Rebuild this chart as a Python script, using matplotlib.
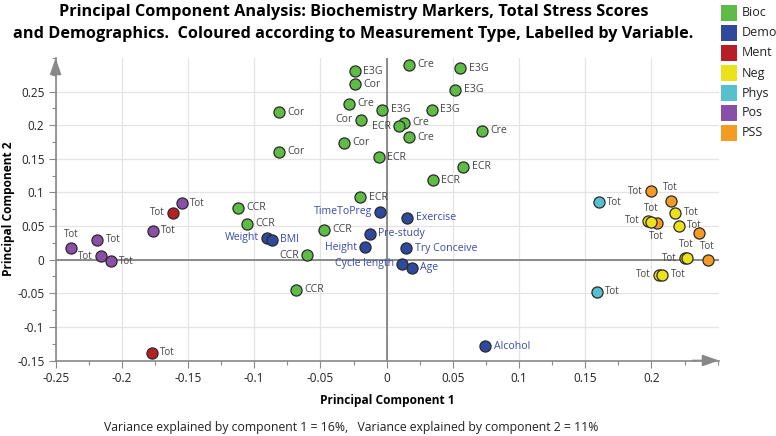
import matplotlib
matplotlib.use("Agg")
import matplotlib.pyplot as plt
from matplotlib.patches import Rectangle
from matplotlib.ticker import MultipleLocator, FuncFormatter

plt.rcParams['font.family'] = ['Open Sans', 'DejaVu Sans']

# ---------------- data ----------------
groups = ["Bioc", "Demo", "Ment", "Neg", "Phys", "Pos", "PSS"]
group_colors = ["#5dbb46", "#2f4a9c", "#b71f27", "#ece21c", "#57c0cf", "#8a4fa6", "#f29b25"]

bioc_x = [-0.0242, 0.0166, 0.0556, -0.0242, 0.052, -0.0284, -0.0033, 0.034, -0.0191, 0.0133,
          0.0096, 0.0719, 0.0166, -0.0319, -0.006, 0.0579, 0.0347, -0.0198, -0.0813, -0.0813,
          -0.1122, -0.1054, -0.0475, -0.0601, -0.0684]
bioc_y = [0.280, 0.290, 0.285, 0.261, 0.2527, 0.2318, 0.2228, 0.2228, 0.2079, 0.2039,
          0.1985, 0.192, 0.182, 0.1736, 0.1527, 0.1382, 0.1184, 0.0925, 0.2194, 0.1606,
          0.0776, 0.0531, 0.0442, 0.0069, -0.0448]
bioc_lab = ["E3G", "Cre", "E3G", "Cor", "E3G", "Cre", "E3G", "E3G", "Cor", "Cre",
            "ECR", "Cre", "Cre", "Cor", "ECR", "ECR", "ECR", "ECR", "Cor", "Cor",
            "CCR", "CCR", "CCR", "CCR", "CCR"]
bioc_side = ["r", "r", "r", "r", "r", "r", "r", "r", "l", "r",
             "l", "r", "r", "r", "r", "r", "r", "r", "r", "r",
             "r", "r", "r", "l", "r"]

demo_x = [-0.0048, 0.0156, -0.0128, -0.0164, 0.0148, 0.0118, 0.0191, -0.0903, -0.0868, 0.0745]
demo_y = [0.0711, 0.0627, 0.0382, 0.0184, 0.0169, -0.006, -0.0119, 0.0328, 0.0298, -0.129]
demo_lab = ["TimeToPreg", "Exercise", "Pre-study", "Height", "Try Conceive", "Cycle length",
            "Age", "Weight", "BMI", "Alcohol"]
demo_side = ["l", "r", "r", "l", "r", "l", "r", "l", "r", "r"]

ment_x = [-0.1615, -0.1774]
ment_y = [0.0701, -0.1388]
ment_lab = ["Tot", "Tot"]
ment_side = ["l", "r"]

pss_x = [0.2, 0.2146, 0.204, 0.2362, 0.2425]
pss_y = [0.1019, 0.087, 0.0546, 0.0403, -0.001]
pss_lab = ["Tot", "Tot", "Tot", "", "Tot"]
pss_side = ["l", "a", "b", "r", "a"]

neg_x = [0.218, 0.1977, 0.2, 0.2206, 0.2256, 0.2266, 0.2055, 0.2083]
neg_y = [0.0696, 0.0576, 0.056, 0.0502, 0.0024, 0.0024, -0.0224, -0.0224]
neg_lab = ["Tot"] * 8
neg_side = ["r", "l", "a", "r", "l", "a", "l", "r"]

phys_x = [0.1602, 0.1587]
phys_y = [0.0851, -0.0478]
phys_lab = ["Tot", "Tot"]
phys_side = ["r", "r"]

pos_x = [-0.1545, -0.1764, -0.2385, -0.2186, -0.2156, -0.2085]
pos_y = [0.0836, 0.0427, 0.0169, 0.0298, 0.0054, -0.0025]
pos_lab = ["Tot"] * 6
pos_side = ["r", "r", "a", "r", "l", "r"]

x_ticks = [-0.25, -0.2, -0.15, -0.1, -0.05, 0, 0.05, 0.1, 0.15, 0.2]
y_ticks = [-0.15, -0.1, -0.05, 0, 0.05, 0.1, 0.15, 0.2, 0.25]

# ---------------- figure ----------------
W, H = 776, 436
fig = plt.figure(figsize=(W / 100, H / 100), dpi=100)
ax_l, ax_r, ax_b, ax_t = 55.6, 719, 360.5, 58
ax = fig.add_axes([ax_l / W, 1 - ax_b / H, (ax_r - ax_l) / W, (ax_b - ax_t) / H])
ax.set_xlim(-0.25, 0.251)
ax.set_ylim(-0.15, 0.30)

ax.set_xticks(x_ticks)
ax.set_yticks(y_ticks)
ax.xaxis.set_minor_locator(MultipleLocator(0.025))
ax.yaxis.set_minor_locator(MultipleLocator(0.025))
fmt = FuncFormatter(lambda v, p: ("%g" % round(v, 3)))
ax.xaxis.set_major_formatter(fmt)
ax.yaxis.set_major_formatter(fmt)
ax.tick_params(axis='both', which='major', length=5, width=0.8, color='#888888',
               labelsize=8.5, labelcolor='#222222', pad=3)
ax.tick_params(axis='both', which='minor', length=3, width=0.8, color='#888888')

ax.grid(True, which='major', color='#e4e4e4', lw=0.9, zorder=0)
ax.set_axisbelow(True)
for s in ['top', 'right']:
    ax.spines[s].set_visible(False)
for s in ['left', 'bottom']:
    ax.spines[s].set_color('#888888')
    ax.spines[s].set_linewidth(1.2)

ax.axhline(0, color='#7a7a7a', lw=1.2, zorder=1)
ax.axvline(0, color='#7a7a7a', lw=1.2, zorder=1)

# axis arrows
ax.annotate('', xy=(1.0, 0), xytext=(0.96, 0), xycoords='axes fraction',
            arrowprops=dict(arrowstyle='-|>,head_length=1.0,head_width=0.35', color='#888888',
                            lw=1.2, shrinkA=0, shrinkB=0), annotation_clip=False)
ax.annotate('', xy=(0, 1.0), xytext=(0, 0.94), xycoords='axes fraction',
            arrowprops=dict(arrowstyle='-|>,head_length=1.0,head_width=0.35', color='#888888',
                            lw=1.2, shrinkA=0, shrinkB=0), annotation_clip=False)

offsets = {"r": ((6, 0), 'left', 'center'), "l": ((-6, 0), 'right', 'center'),
           "a": ((0, 6), 'center', 'bottom'), "b": ((0, -6), 'center', 'top')}

def draw(xs, ys, labs, sides, color, text_color, fs):
    ax.scatter(xs, ys, s=64, c=color, edgecolors='#2a2a2a', linewidths=0.9, zorder=3)
    for x, y, t, sd in zip(xs, ys, labs, sides):
        if not t:
            continue
        off, ha, va = offsets[sd]
        ax.annotate(t, (x, y), xytext=off, textcoords='offset points', ha=ha, va=va,
                    fontsize=fs, color=text_color, zorder=4)

draw(bioc_x, bioc_y, bioc_lab, bioc_side, group_colors[0], '#444444', 7.6)
draw(demo_x, demo_y, demo_lab, demo_side, group_colors[1], '#3a4aa8', 7.6)
draw(ment_x, ment_y, ment_lab, ment_side, group_colors[2], '#444444', 7)
draw(pss_x, pss_y, pss_lab, pss_side, group_colors[6], '#444444', 7)
draw(neg_x, neg_y, neg_lab, neg_side, group_colors[3], '#444444', 7)
draw(phys_x, phys_y, phys_lab, phys_side, group_colors[4], '#444444', 7)
draw(pos_x, pos_y, pos_lab, pos_side, group_colors[5], '#444444', 7)

ax.set_xlabel("Principal Component 1", fontsize=8.6, fontweight='bold')
ax.xaxis.set_label_coords(0.5, (ax_b - 400) / (ax_b - ax_t))
ax.xaxis.label.set_va('center')
ax.set_ylabel("Principal Component 2", fontsize=8.6, fontweight='bold')
ax.yaxis.set_label_coords((9 - ax_l) / (ax_r - ax_l), 0.5)
ax.yaxis.label.set_va('center')

# title
fig.text(354 / W, 1 - 12.5 / H, "Principal Component Analysis: Biochemistry Markers, Total Stress Scores",
         ha='center', va='center', fontsize=11.7, fontweight='bold')
fig.text(353 / W, 1 - 33.5 / H,
         "and Demographics.  Coloured according to Measurement Type, Labelled by Variable.",
         ha='center', va='center', fontsize=11.7, fontweight='bold')

# legend
for i, (g, c) in enumerate(zip(groups, group_colors)):
    yc = 13 + 20 * i
    fig.patches.append(Rectangle((721 / W, 1 - (yc + 8) / H), 16 / W, 16 / H,
                                 transform=fig.transFigure, facecolor=c, edgecolor='none'))
    fig.text(742 / W, 1 - yc / H, g, ha='left', va='center', fontsize=9, color='#222222')

fig.text(351 / W, 1 - 427 / H,
         "Variance explained by component 1 = 16%,   Variance explained by component 2 = 11%",
         ha='center', va='center', fontsize=8.8, color='#222222')

fig.savefig("out.png", dpi=100)
